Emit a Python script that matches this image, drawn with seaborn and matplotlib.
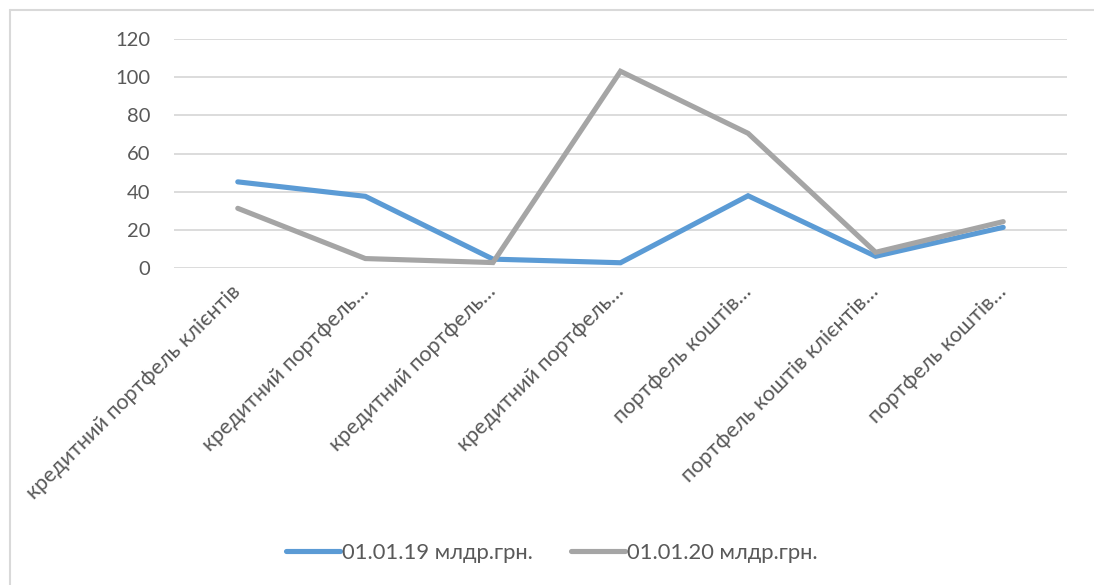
import matplotlib
matplotlib.use("Agg")
import matplotlib.pyplot as plt
from matplotlib.lines import Line2D
import seaborn as sns
import pandas as pd
import numpy as np

categories = [
    "кредитний портфель клієнтів",
    "кредитний портфель…",
    "кредитний портфель…",
    "кредитний портфель…",
    "портфель коштів…",
    "портфель коштів клієнтів…",
    "портфель коштів…",
]
series_names = ["01.01.19 млдр.грн.", "01.01.20 млдр.грн."]
values_2019 = [45.1, 37.5, 4.5, 2.6, 37.8, 6.0, 21.2]
values_2020 = [31.2, 4.8, 2.7, 103.2, 70.6, 8.1, 24.2]
y_ticks = [0, 20, 40, 60, 80, 100, 120]

colors = ["#5B9BD5", "#A5A5A5"]
text_color = "#595959"
grid_color = "#D9D9D9"

sns.set_theme(style="white")
plt.rcParams["font.family"] = ["Lato", "DejaVu Sans"]

df = pd.DataFrame({
    "pos": list(range(len(categories))) * 2,
    "value": values_2019 + values_2020,
    "series": [series_names[0]] * len(categories) + [series_names[1]] * len(categories),
})

fig = plt.figure(figsize=(10.94, 5.85), dpi=100)
ax = fig.add_axes([174 / 1094, 1 - 267.7 / 585, (1067 - 174) / 1094, (267.7 - 39.3) / 585])

sns.lineplot(data=df, x="pos", y="value", hue="series", palette=colors,
             linewidth=3.7, ax=ax, legend=False, sort=False)
for line in ax.get_lines():
    line.set_solid_capstyle("round")
    line.set_solid_joinstyle("miter")

ax.set_xlim(-0.5, len(categories) - 0.5)
ax.set_ylim(0, 120)
ax.set_yticks(y_ticks)
ax.set_yticklabels([str(t) for t in y_ticks])
ax.set_xticks(range(len(categories)))
ax.set_xticklabels(categories, rotation=45, ha="right", va="center",
                   rotation_mode="anchor")
ax.tick_params(axis="y", length=0, pad=17, labelsize=14.5, labelcolor=text_color)
ax.tick_params(axis="x", length=0, pad=15, labelsize=15.5, labelcolor=text_color)
ax.set_xlabel("")
ax.set_ylabel("")
ax.yaxis.grid(True, color=grid_color, linewidth=1.3)
ax.xaxis.grid(False)
ax.set_axisbelow(True)
for s in ax.spines.values():
    s.set_visible(False)

handles = [Line2D([0], [0], color=c, linewidth=3.7, solid_capstyle="round") for c in colors]
fig.legend(handles, series_names, loc="center", bbox_to_anchor=(0.5 + 5 / 1094, 1 - 553 / 585),
           ncol=2, frameon=False, fontsize=15.8, labelcolor=text_color,
           handlelength=2.45, handletextpad=0.1, columnspacing=1.75)

# chart area border (top and left edges)
fig.add_artist(Line2D([9.5 / 1094, 9.5 / 1094], [0, 1 - 10 / 585],
                      transform=fig.transFigure, color=grid_color, linewidth=1.5))
fig.add_artist(Line2D([9.5 / 1094, 1], [1 - 10 / 585, 1 - 10 / 585],
                      transform=fig.transFigure, color=grid_color, linewidth=1.5))

fig.savefig("out.png", dpi=100, facecolor="white")
